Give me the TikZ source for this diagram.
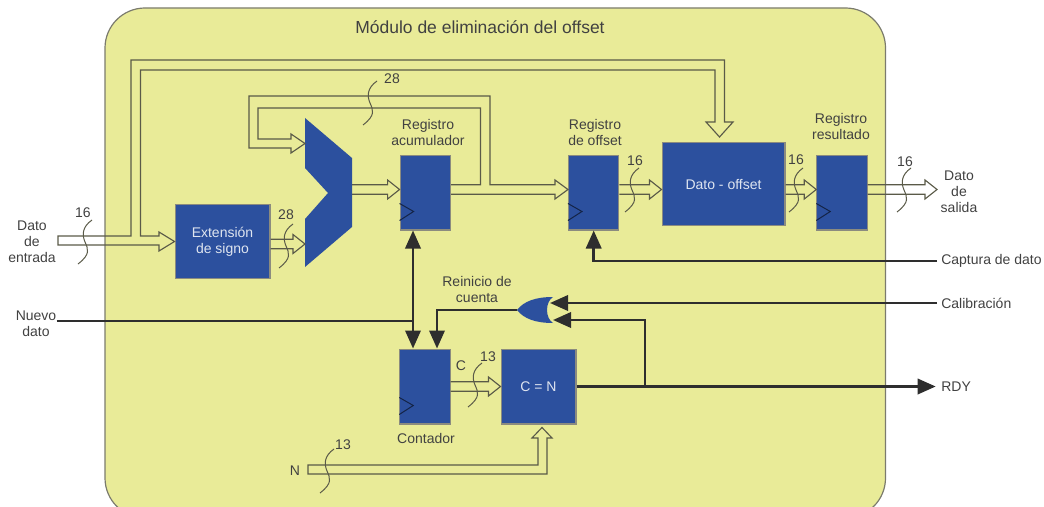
\documentclass[tikz,border=0pt]{standalone}
\usepackage{fontspec}
\setmainfont{Liberation Sans}
\usetikzlibrary{calc, arrows.meta}
\definecolor{xyellow}{HTML}{E9EB98}
\definecolor{xblue}{HTML}{2C509E}
\definecolor{xtext}{HTML}{414141}
\definecolor{xline}{HTML}{5A5A48}
\definecolor{xdark}{HTML}{2E2E2E}
\tikzset{
	every node/.style={font=\fontsize{10.5}{12}\selectfont, text=xtext, inner sep=0pt, align=center},
	block/.style={draw=xline!70, fill=xblue, line width=.8pt, text=white!85!xblue},
	reg/.style={block, minimum width=37.8pt, minimum height=56.2pt},
	bus/.style={draw=xline, line width=.85pt, line join=miter},
	ctrl/.style={draw=xdark, line width=1.9pt, -{Triangle[length=13.5pt,width=11.5pt]}},
	mark16/.style={draw=xline, line width=.75pt},
	clock/.style={draw=xblue!45!black, line width=.75pt},
}
\newcommand{\hbus}[2]{\draw[bus] ($(#1)+(0,-4.7)$) -- ($(#2)+(-12,-4.7)$) -- ($(#2)+(-12,-9.5)$) -- (#2) -- ($(#2)+(-12,9.5)$) -- ($(#2)+(-12,4.7)$) -- ($(#1)+(0,4.7)$);}
\begin{document}
\begin{tikzpicture}[x=.75pt, y=-.75pt]
	\useasboundingbox (0,0) rectangle (1044,506);
	\clip (0,0) rectangle (1044,506);
	\draw[draw=xline!80, fill=xyellow, line width=.9pt, rounded corners=30pt] (105,8) rectangle (885.5,518);
	\node (title) at (480,27) {\fontsize{13.1}{15}\selectfont Módulo de eliminación del offset};

	% bloques
	\node[block, minimum width=71.2pt, minimum height=55pt] (ext) at (222.5,241.5) {Extensión\\de signo};
	\node[reg] (acc) at (425.3,192.5) {};
	\node[reg] (off) at (593.7,192.5) {};
	\node[block, minimum width=92.2pt, minimum height=62.2pt] (sub) at (723.5,184.2) {Dato - offset};
	\node[reg] (res) at (842,192.5) {};
	\node[reg] (cont) at (425,386.5) {};
	\node[block, minimum width=56.2pt, minimum height=56.2pt] (cmp) at (538.5,386.5) {C = N};
	\foreach \r in {acc, off, res, cont}{
		\draw[clock] ($(\r.south west)+(0,-27)$) -- ($(\r.south west)+(14,-19)$) -- ($(\r.south west)+(0,-10)$);
	}
	\fill[xblue] (305,118) -- (352,158) -- (352,227) -- (305,267) -- (305,219) -- (328,193) -- (305,168) -- cycle;
	\coordinate (muxout) at (352,189.5);
	\coordinate (muxup) at (305,143.5);
	\coordinate (muxin) at (305,244);
	\coordinate (subin) at (719.5,137);
	\coordinate (busy) at (0,189.5);
	\coordinate (dout) at (937,189.5);

	% puerta or
	\fill[xblue] (517,310) .. controls (524,301) and (536,297) .. (553,297) .. controls (545,302) and (545,318) .. (553,323) .. controls (536,323) and (524,319) .. (517,310) -- cycle;
	\coordinate (orout) at (517,310);
	\coordinate (orup) at (550,303);
	\coordinate (ordown) at (553,320);

	% textos
	\node (din) at (32,242) {Dato\\de\\entrada};
	\node (salida) at (959,192) {Dato\\de\\salida};
	\node (nuevo) at (36,323.5) {Nuevo\\dato};
	\node (lacc) at (428,132) {Registro\\acumulador};
	\node (loff) at (595,132) {Registro\\de offset};
	\node (lres) at (841,126) {Registro\\resultado};
	\node (lrein) at (477,289) {Reinicio de\\cuenta};
	\node (lcont) at (426,438) {Contador};
	\node (lc) at (461,366) {C};
	\node (ln) at (295,471) {N};
	\node[anchor=west] (captura) at (941,261) {Captura de dato};
	\node[anchor=west] (calib) at (941,303) {Calibración};
	\node[anchor=west] (rdy) at (941,386.5) {RDY};

	% buses
	\draw[bus] (58,236) -- (131,236) -- (131,60) -- (724.5,60) -- (724.5,122) -- (733,122) -- (subin) -- (706,122) -- (715,122) -- (715,70) -- (140.5,70) -- (140.5,236) -- (159,236) -- (159,232) -- (ext.west) -- (159,251) -- (159,245) -- (58,245) -- cycle;
	\draw[bus] ($(acc.east |- busy)+(0,-4.7)$) -- (480.5,184.8) -- (480.5,108) -- (258,108) -- (258,139) -- (291,139) -- (291,134) -- (muxup) -- (291,153) -- (291,148) -- (249,148) -- (249,96) -- (490,96) -- (490,184.8) -- (555,184.8) -- (555,180) -- (off.west |- busy) -- (555,199) -- (555,194.2) -- ($(acc.east |- busy)+(0,4.7)$);
	\hbus{ext.east |- muxin}{muxin}
	\hbus{muxout}{acc.west |- busy}
	\hbus{off.east |- busy}{sub.west |- busy}
	\hbus{sub.east |- busy}{res.west |- busy}
	\hbus{res.east |- busy}{dout}
	\hbus{cont.east |- cmp.west}{cmp.west}
	\draw[bus] (308,465) -- (538,465) -- (538,438) -- (532,438) -- ($(cmp.south)+(3.5,3)$) -- (552,438) -- (547,438) -- (547,474) -- (308,474) -- cycle;

	% control
	\coordinate (jn) at (413,321);
	\coordinate (jr) at (645,386.5);
	\draw[ctrl, {Triangle[length=13.5pt,width=11.5pt]}-{Triangle[length=13.5pt,width=11.5pt]}] (jn |- acc.south) -- (jn |- cont.north);
	\draw[ctrl, -] (nuevo.east |- jn) -- (jn);
	\draw[ctrl] (orout) -| ($(cont.north)+(12,0)$);
	\draw[ctrl, shorten <=3pt] (captura.west) -| (off.south);
	\draw[ctrl, shorten <=3pt] (calib.west) -- (orup);
	\draw[ctrl, shorten >=4pt] (cmp.east) -- (rdy.west);
	\draw[ctrl] (jr) |- (ordown);

	% marcas de ancho de bus
	\foreach \n/\x/\y/\t/\lx/\ly in {a/85/242/16/83/213, b/286/246/28/286/215, c/370/103/28/392/79, d/632/190/16/635/161, e/796/190/16/796/160, f/904/190/16/905/162, g/475/385/13/488/357, h/327/471/13/343/445}{
		\draw[mark16] ($(\x,\y)+(7,-22)$) .. controls ($(\x,\y)+(-3,-15)$) and ($(\x,\y)+(-3,-7)$) .. ($(\x,\y)$) .. controls ($(\x,\y)+(3,7)$) and ($(\x,\y)+(6,12)$) .. ($(\x,\y)+(-7,22)$);
		\node (w\n) at (\lx,\ly) {\t};
	}
\end{tikzpicture}
\end{document}
